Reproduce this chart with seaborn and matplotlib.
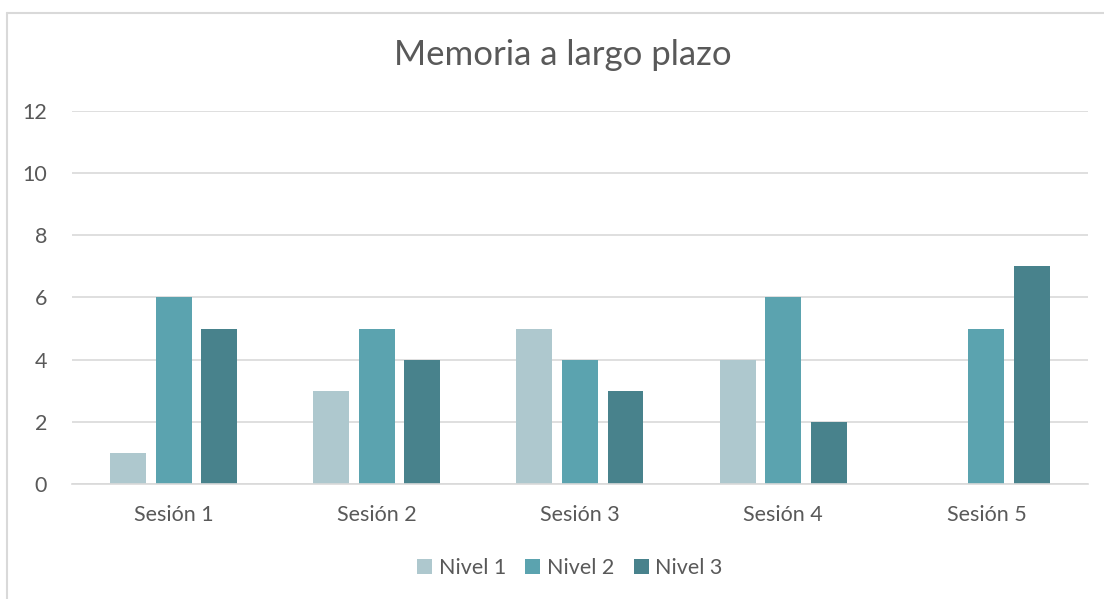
import seaborn as sns
import matplotlib.pyplot as plt
import pandas as pd
from matplotlib.lines import Line2D

sesiones = ['Sesión 1', 'Sesión 2', 'Sesión 3', 'Sesión 4', 'Sesión 5']
niveles = ['Nivel 1', 'Nivel 2', 'Nivel 3']
nivel1 = [1, 3, 5, 4, 0]
nivel2 = [6, 5, 4, 6, 5]
nivel3 = [5, 4, 3, 2, 7]
colores = ['#AEC8CE', '#5BA3AF', '#48828C']

data = pd.DataFrame({
    'sesion': sesiones * 3,
    'nivel': [n for n in niveles for _ in sesiones],
    'valor': nivel1 + nivel2 + nivel3,
})

sns.set_theme(style='white')
plt.rcParams['font.family'] = ['Lato', 'DejaVu Sans']
gray = '#595959'

fig = plt.figure(figsize=(11.04, 5.99), dpi=100)
ax = fig.add_axes([0.0652, 0.192, 0.9203, 0.6227])

sns.barplot(data=data, x='sesion', y='valor', hue='nivel',
            palette=colores, width=0.672, gap=0.21, ax=ax,
            saturation=1, linewidth=0, legend=True)

ax.set_ylim(0, 12)
ax.set_yticks(range(0, 13, 2))
ax.set_xlim(-0.5, 4.5)
ax.grid(axis='y', color='#D9D9D9', linewidth=1.2)
ax.set_axisbelow(True)
for s in ['top', 'right', 'left']:
    ax.spines[s].set_visible(False)
ax.spines['bottom'].set_color('#D9D9D9')
ax.spines['bottom'].set_linewidth(1.2)
ax.tick_params(axis='both', length=0, colors=gray, labelsize=15.5)
ax.tick_params(axis='y', pad=18)
ax.tick_params(axis='x', pad=15)
ax.set_xlabel('')
ax.set_ylabel('')

ax.legend(loc='center', bbox_to_anchor=(0.49, -0.225), ncol=3, frameon=False,
          fontsize=15.5, labelcolor=gray, handlelength=0.7, handleheight=0.7,
          handletextpad=0.3, columnspacing=0.9)

fig.suptitle('Memoria a largo plazo', x=0.51, y=0.935, fontsize=25, color=gray)

# chart border (top and left edges visible)
fig.add_artist(Line2D([7 / 1104, 1.0], [1 - 13 / 599] * 2, color='#D9D9D9', lw=1.5))
fig.add_artist(Line2D([7 / 1104] * 2, [0, 1 - 13 / 599], color='#D9D9D9', lw=1.5))

fig.savefig('out.png', dpi=100)
